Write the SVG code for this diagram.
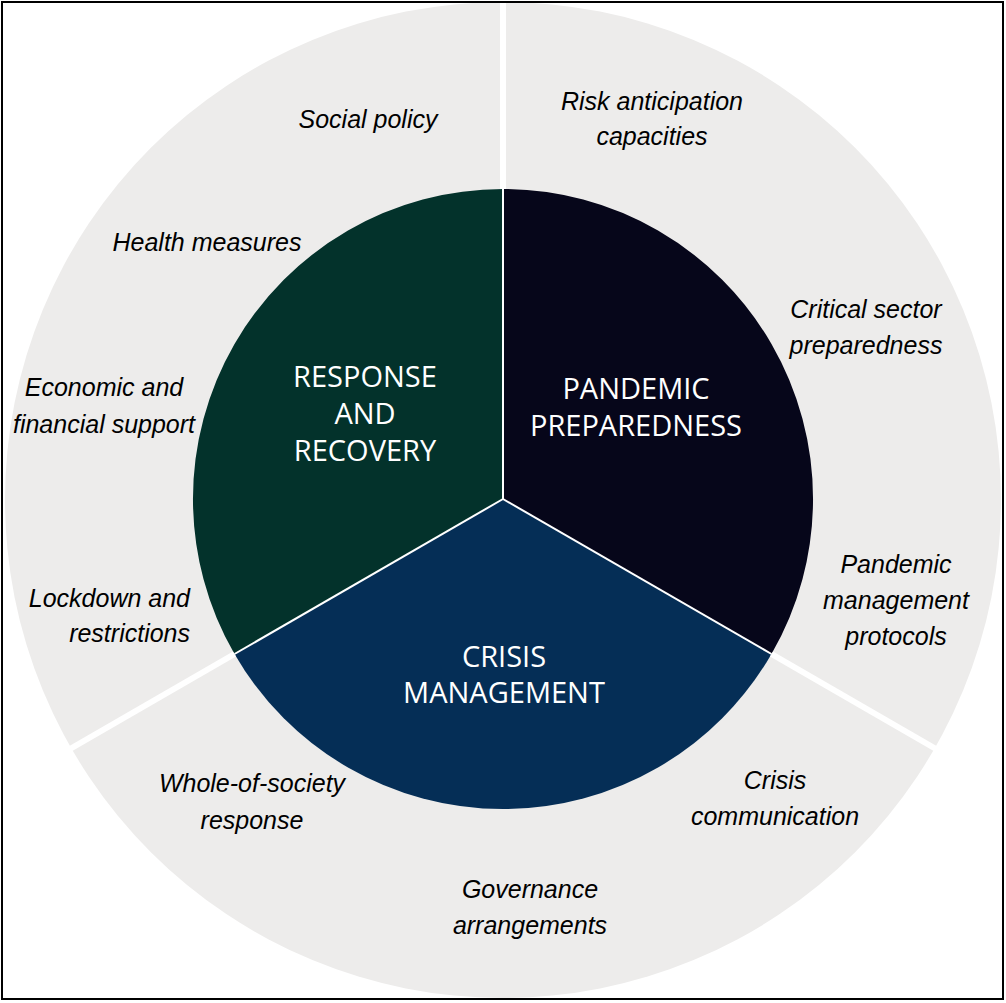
<svg xmlns="http://www.w3.org/2000/svg" width="1006" height="1003" viewBox="0 0 1006 1003">
  <style>
    .ring { fill: #EDECEB; }
    .gap { stroke: #FFFFFF; stroke-width: 6; fill: none; }
    .div { stroke: #FFFFFF; stroke-width: 2; fill: none; }
    .core { font-family: "Open Sans", "Liberation Sans", sans-serif; font-size: 29px; fill: #FFFFFF; text-anchor: middle; }
    .lbl { font-family: "Liberation Sans", Arial, sans-serif; font-style: italic; font-size: 25px; fill: #000000; text-anchor: middle; }
  </style>
  <rect x="0" y="0" width="1006" height="1003" fill="#FFFFFF"/>
  <circle class="ring" cx="503" cy="500" r="498"/>

  <g id="response-and-recovery">
    <path d="M503,499 L234.5,654 A310,310 0 0 1 503,189 Z" fill="#03322B"/>
    <text class="core" x="365" y="387">RESPONSE</text>
    <text class="core" x="365" y="424">AND</text>
    <text class="core" x="365" y="461">RECOVERY</text>
  </g>
  <g id="pandemic-preparedness">
    <path d="M503,499 L503,189 A310,310 0 0 1 771.5,654 Z" fill="#06061A"/>
    <text class="core" x="636" y="399">PANDEMIC</text>
    <text class="core" x="636" y="436">PREPAREDNESS</text>
  </g>
  <g id="crisis-management">
    <path d="M503,499 L771.5,654 A310,310 0 0 1 234.5,654 Z" fill="#052E56"/>
    <text class="core" x="504" y="667">CRISIS</text>
    <text class="core" x="504" y="703">MANAGEMENT</text>
  </g>

  <g id="dividers">
    <line class="gap" x1="503" y1="189" x2="503" y2="-10"/>
    <line class="gap" x1="771.5" y1="654" x2="944.7" y2="754"/>
    <line class="gap" x1="234.5" y1="654" x2="61.3" y2="754"/>
    <line class="div" x1="503" y1="499" x2="503" y2="189"/>
    <line class="div" x1="503" y1="499" x2="771.5" y2="654"/>
    <line class="div" x1="503" y1="499" x2="234.5" y2="654"/>
  </g>

  <g id="social-policy"><text class="lbl" x="368" y="128">Social policy</text></g>
  <g id="health-measures"><text class="lbl" x="207" y="251">Health measures</text></g>
  <g id="economic-support">
    <text class="lbl" x="104" y="396">Economic and</text>
    <text class="lbl" x="104" y="433">financial support</text>
  </g>
  <g id="lockdown">
    <text class="lbl" x="190" y="607" style="text-anchor:end">Lockdown and</text>
    <text class="lbl" x="190" y="642" style="text-anchor:end">restrictions</text>
  </g>
  <g id="risk-anticipation">
    <text class="lbl" x="652" y="110">Risk anticipation</text>
    <text class="lbl" x="652" y="145">capacities</text>
  </g>
  <g id="critical-sector">
    <text class="lbl" x="866" y="318">Critical sector</text>
    <text class="lbl" x="866" y="354">preparedness</text>
  </g>
  <g id="pandemic-protocols">
    <text class="lbl" x="896" y="573">Pandemic</text>
    <text class="lbl" x="896" y="609">management</text>
    <text class="lbl" x="896" y="645">protocols</text>
  </g>
  <g id="crisis-communication">
    <text class="lbl" x="775" y="789">Crisis</text>
    <text class="lbl" x="775" y="825">communication</text>
  </g>
  <g id="whole-of-society">
    <text class="lbl" x="252" y="792">Whole-of-society</text>
    <text class="lbl" x="252" y="829">response</text>
  </g>
  <g id="governance">
    <text class="lbl" x="530" y="898">Governance</text>
    <text class="lbl" x="530" y="934">arrangements</text>
  </g>

  <rect x="2" y="2" width="1001" height="997" fill="none" stroke="#000000" stroke-width="2"/>
</svg>
